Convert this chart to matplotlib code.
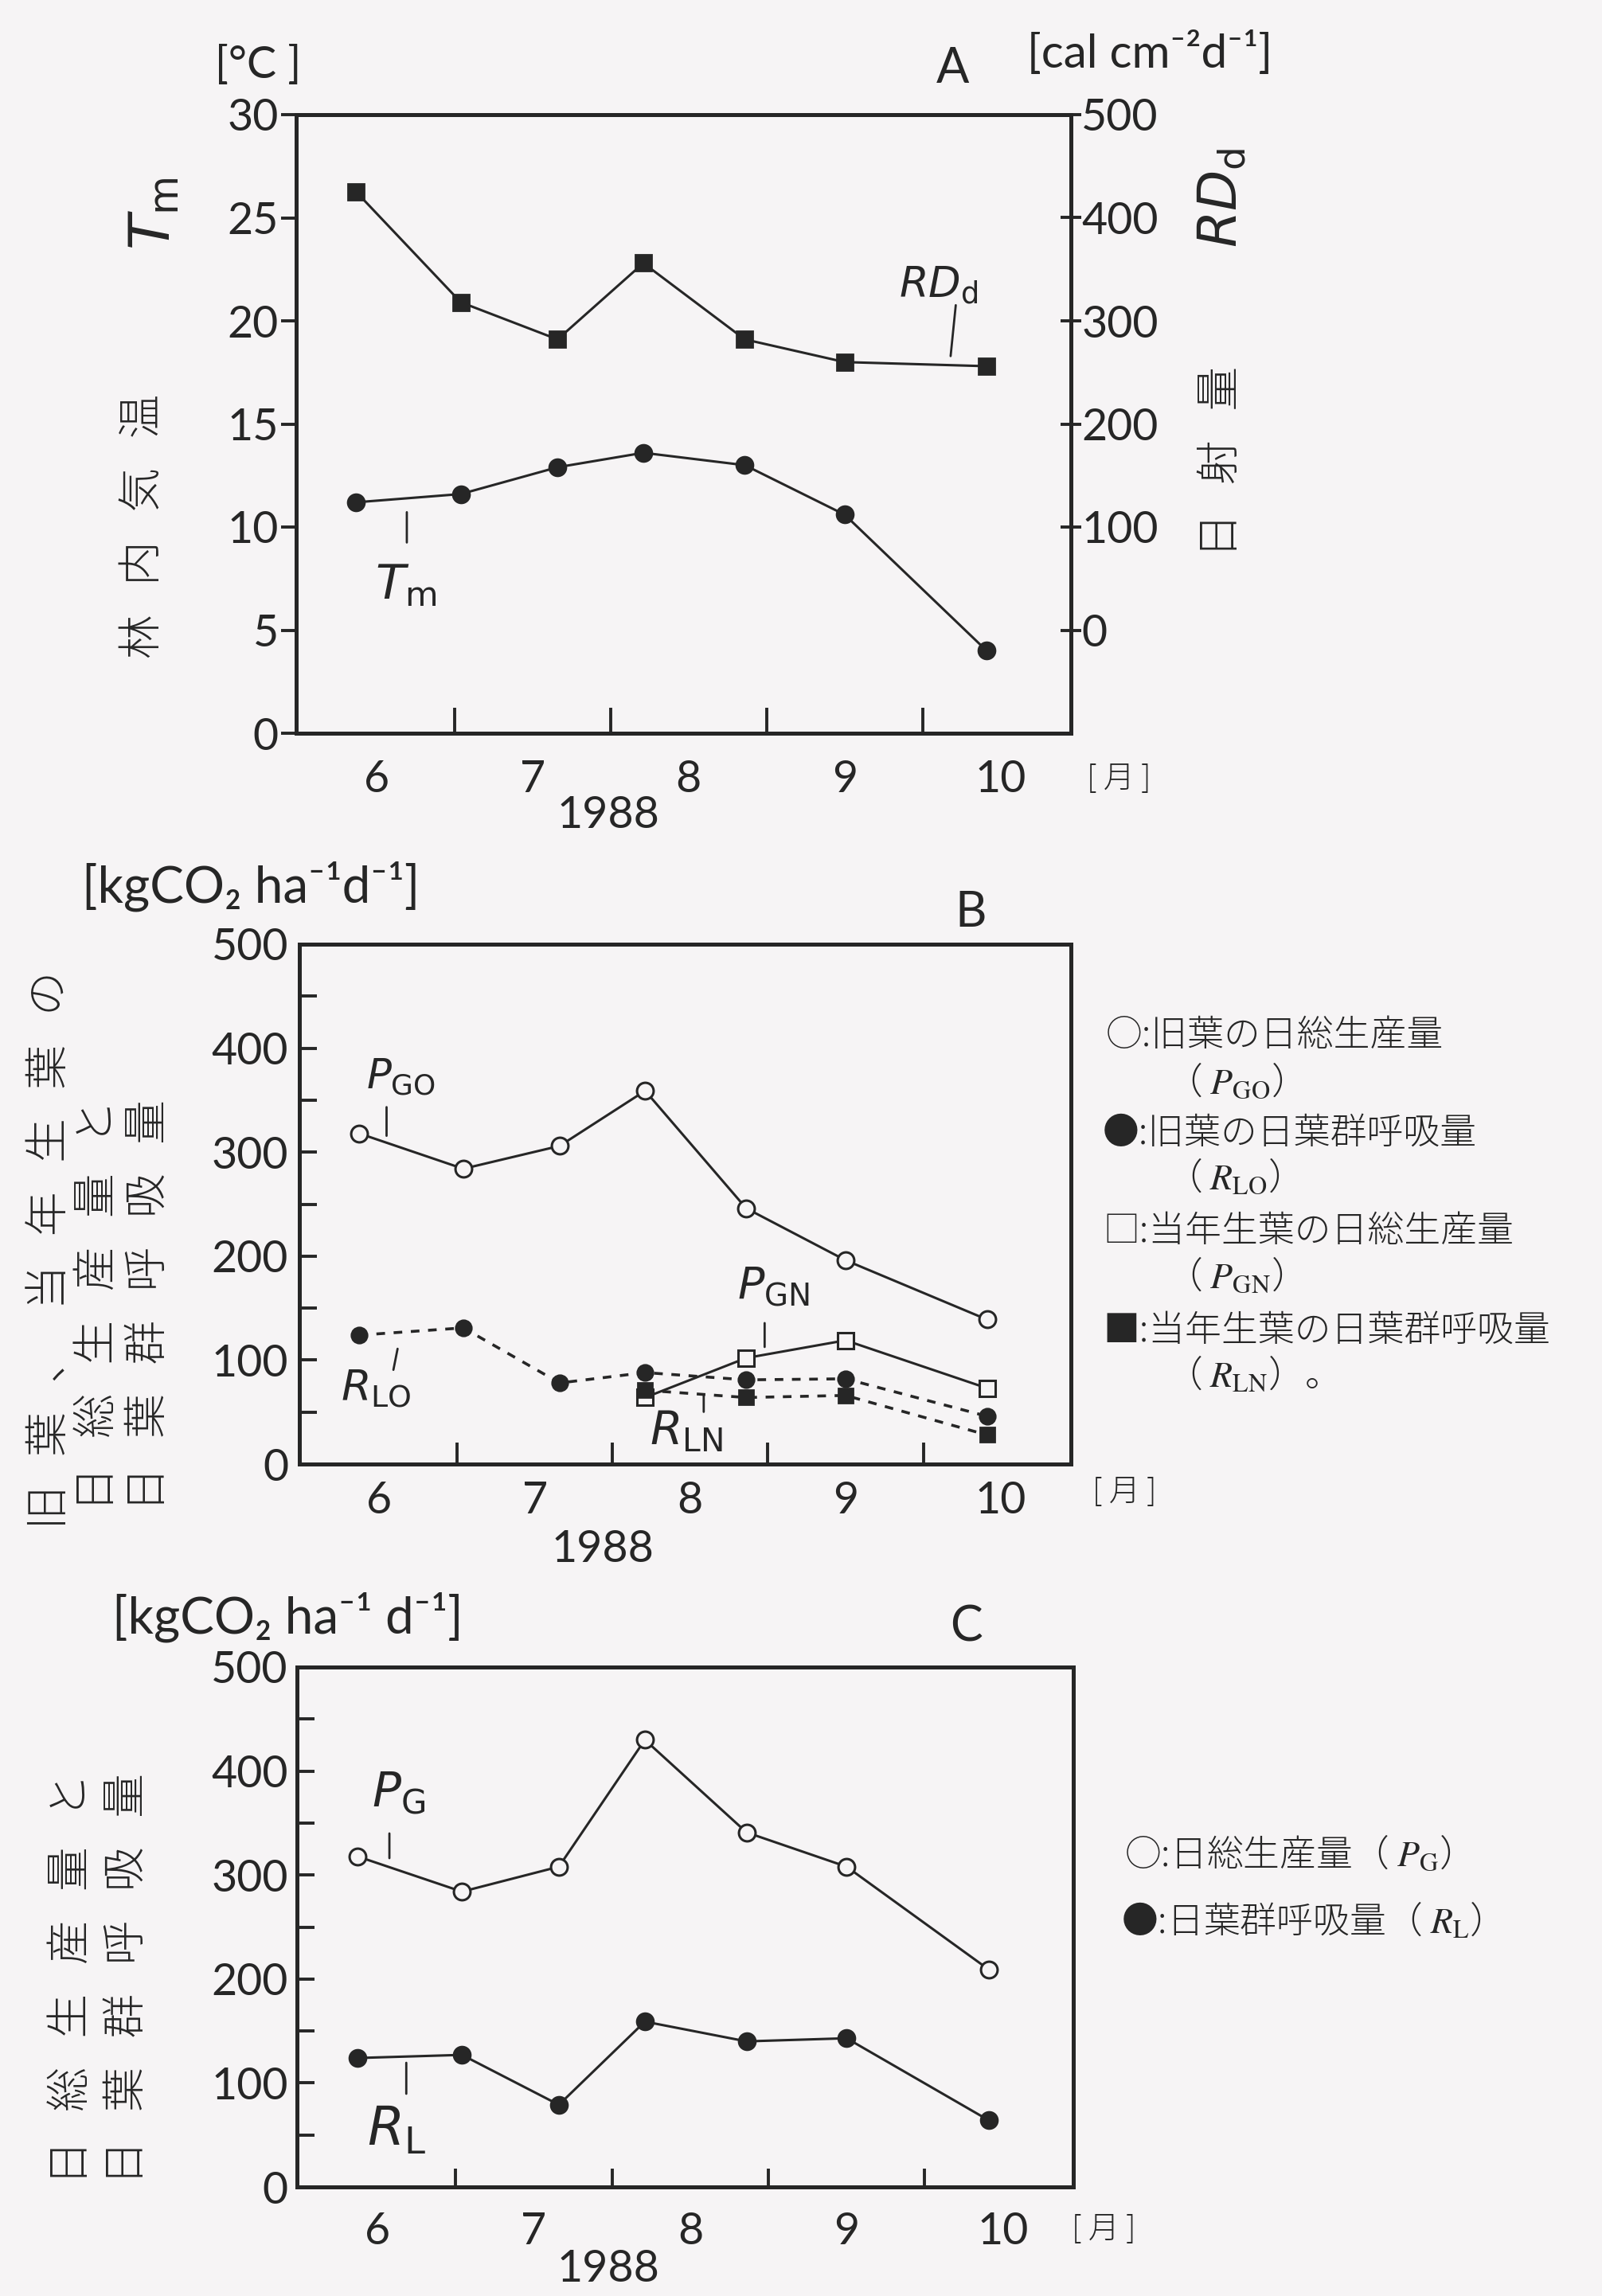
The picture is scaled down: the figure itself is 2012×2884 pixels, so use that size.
import numpy as np
import matplotlib
matplotlib.use("Agg")
import matplotlib.pyplot as plt
from matplotlib.ticker import FixedLocator

# ---------------- data ----------------
nan = np.nan
# sampling dates in month units (month label sits mid-month, boundaries at .5)
sample_x = [5.87, 6.54, 7.16, 7.71, 8.36, 9.00, 9.91]
Tm = [11.2, 11.6, 12.9, 13.6, 13.0, 10.6, 4.0]          # 林内気温 [°C]
RDd = [425, 318, 282, 356, 282, 260, 256]                # 日射量 [cal cm-2 d-1]
PGO = [318, 284, 306, 359, 246, 196, 139]                # 旧葉の日総生産量
RLO = [124, 131, 78, 88, 81, 82, 46]                     # 旧葉の日葉群呼吸量
PGN = [nan, nan, nan, 64, 102, 119, 73]                  # 当年生葉の日総生産量
RLN = [nan, nan, nan, 71, 64, 66, 28]                    # 当年生葉の日葉群呼吸量
PG = [318, 284, 308, 430, 341, 308, 209]                 # 日総生産量
RL = [124, 127, 79, 159, 140, 143, 64]                   # 日葉群呼吸量
month_pos = [6, 7, 8, 9, 10]
month_labels = ["6", "7", "8", "9", "10"]
month_bounds = [6.5, 7.5, 8.5, 9.5]
tempA_ticks = [0, 5, 10, 15, 20, 25, 30]
radA_ticks = [0, 100, 200, 300, 400, 500]
prod_ticks = [0, 100, 200, 300, 400, 500]
prod_minor = [50, 150, 250, 350, 450]

# ---------------- style ----------------
W, H = 2012, 2884
DPI = 200
BG = "#f6f4f5"
INK = "#262626"
NUMFONT = ["Lato", "DejaVu Sans"]
JPFONT = ["Noto Sans CJK JP", "DejaVu Sans"]
plt.rcParams["font.family"] = NUMFONT
plt.rcParams["text.color"] = INK
plt.rcParams["axes.edgecolor"] = INK
plt.rcParams["xtick.color"] = INK
plt.rcParams["ytick.color"] = INK
plt.rcParams["xtick.labelcolor"] = INK
plt.rcParams["ytick.labelcolor"] = INK

fig = plt.figure(figsize=(W / DPI, H / DPI), dpi=DPI, facecolor=BG)


def rect(l, t, r, b):
    return [l / W, 1 - b / H, (r - l) / W, (b - t) / H]


def ftext(x, y, s, **kw):
    kw.setdefault("color", INK)
    return fig.text(x / W, 1 - y / H, s, **kw)


def vlabel(x, ybottom, s, size=20):
    spaced = "   ".join(list(s))
    ftext(x, ybottom, spaced, rotation=90, ha="center", va="bottom",
          family=JPFONT, fontsize=size, fontweight="light")


def leader(ax, p0, p1):
    ax.annotate("", xy=p1, xytext=p0,
                arrowprops=dict(arrowstyle="-", lw=1.0, color=INK,
                                shrinkA=0, shrinkB=0))


def mlabel(ax, x, y, s, size):
    ax.text(x, y, s, fontsize=size, ha="center", va="center", color=INK,
            math_fontfamily="dejavusans")


def base_axes(ax, xlabpad, xticklen):
    ax.set_facecolor(BG)
    ax.set_xlim(5.485, 10.45)
    for sp in ax.spines.values():
        sp.set_linewidth(1.8)
    ax.set_xticks(month_pos)
    ax.set_xticklabels(month_labels, fontsize=20)
    ax.xaxis.set_minor_locator(FixedLocator(month_bounds))
    ax.tick_params(axis="x", which="major", length=0, pad=xlabpad)
    ax.tick_params(axis="x", which="minor", direction="in", length=xticklen,
                   width=1.4)


LW = 1.1
MS = 7.5
MEW = 1.1

# ---------------- panel A ----------------
axA = fig.add_axes(rect(372, 144, 1345, 921))
base_axes(axA, 12, 11.5)
axA.set_ylim(0, 30)
axA.set_yticks(tempA_ticks)
axA.set_yticklabels([str(v) for v in tempA_ticks], fontsize=20)
axA.tick_params(axis="y", direction="out", length=7, width=1.4, pad=1)
axA.plot(sample_x, Tm, "-o", color=INK, lw=LW, ms=MS, mfc=INK, mec=INK, zorder=3)

axA2 = axA.twinx()
axA2.set_ylim(-100, 500)
axA2.set_yticks(radA_ticks)
axA2.set_yticklabels([str(v) for v in radA_ticks], fontsize=20)
axA2.tick_params(axis="y", direction="inout", length=9.5, width=1.4, pad=0)
for sp in axA2.spines.values():
    sp.set_linewidth(1.8)
axA2.plot(sample_x, RDd, "-s", color=INK, lw=LW, ms=7, mfc=INK, mec=INK, zorder=3)

mlabel(axA, 6.19, 7.17, r"$T_{\mathrm{m}}$", 22)
leader(axA, (6.194, 10.72), (6.194, 9.25))
mlabel(axA, 9.60, 21.70, r"$RD_{\mathrm{d}}$", 19)
leader(axA, (9.712, 20.76), (9.679, 18.29))

ftext(324, 82, "[°C ]", fontsize=20, ha="center", va="center")
ftext(1197, 86, "A", fontsize=22, ha="center", va="center")
ftext(1290, 67, "[cal cm⁻²d⁻¹]", fontsize=21, ha="left", va="center")
ftext(193, 268, r"$T_{\mathrm{m}}$", fontsize=26, rotation=90, ha="center",
      va="center", math_fontfamily="dejavusans")
vlabel(180, 827, "林内気温")
ftext(1534, 248, r"$RD_{\mathrm{d}}$", fontsize=24, rotation=90, ha="center",
      va="center", math_fontfamily="dejavusans")
vlabel(1534, 700, "日射量")
ftext(1405, 978, "[ 月 ]", fontsize=14, ha="center", va="center", family=JPFONT,
      fontweight="light")
ftext(764, 1025, "1988", fontsize=20, ha="center", va="center")

# ---------------- panel B ----------------
axB = fig.add_axes(rect(376, 1186, 1345, 1839))
base_axes(axB, 7.5, 9.7)
axB.set_ylim(0, 500)
axB.set_yticks(prod_ticks)
axB.set_yticklabels([str(v) for v in prod_ticks], fontsize=20)
axB.yaxis.set_minor_locator(FixedLocator(prod_minor))
axB.tick_params(axis="y", which="both", direction="in", length=8, width=1.4, pad=5)

axB.plot(sample_x, PGO, "-o", color=INK, lw=LW, ms=MS, mfc=BG, mec=INK, mew=MEW, zorder=3)
axB.plot(sample_x, PGN, "-s", color=INK, lw=LW, ms=7.5, mfc=BG, mec=INK, mew=MEW, zorder=3)
axB.plot(sample_x, RLN, "--s", color=INK, lw=LW + 0.2, dashes=(3, 3), ms=6.5,
         mfc=INK, mec=INK, zorder=4)
axB.plot(sample_x, RLO, "--o", color=INK, lw=LW + 0.2, dashes=(3, 3), ms=7,
         mfc=INK, mec=INK, zorder=5)

mlabel(axB, 6.138, 372.3, r"$P_{\mathrm{GO}}$", 18.5)
leader(axB, (6.046, 343.3), (6.046, 315.7))
mlabel(axB, 5.98, 71.9, r"$R_{\mathrm{LO}}$", 19.5)
leader(axB, (6.117, 110.9), (6.09, 90.6))
mlabel(axB, 8.536, 170.5, r"$P_{\mathrm{GN}}$", 20)
leader(axB, (8.479, 135.6), (8.479, 112.6))
mlabel(axB, 7.974, 31.3, r"$R_{\mathrm{LN}}$", 21)
leader(axB, (8.087, 66.7), (8.087, 50.2))

ftext(103, 1113, "[kgCO₂ ha⁻¹d⁻¹]", fontsize=23, ha="left", va="center")
ftext(1219, 1146, "B", fontsize=22, ha="center", va="center")
vlabel(63, 1921, "旧葉、当年生葉の")
vlabel(123, 1898, "日総生産量と")
vlabel(187, 1898, "日葉群呼吸量")
ftext(1412, 1874, "[ 月 ]", fontsize=14, ha="center", va="center", family=JPFONT,
      fontweight="light")
ftext(757, 1947, "1988", fontsize=20, ha="center", va="center")

legB = [
    (1389, 1301, "○:旧葉の日総生産量"),
    (1464, 1360, "（ $P_{\\mathrm{GO}}$）"),
    (1385, 1424, "●:旧葉の日葉群呼吸量"),
    (1464, 1480, "（ $R_{\\mathrm{LO}}$）"),
    (1385, 1547, "□:当年生葉の日総生産量"),
    (1464, 1604, "（ $P_{\\mathrm{GN}}$）"),
    (1385, 1672, "■:当年生葉の日葉群呼吸量"),
    (1464, 1728, "（ $R_{\\mathrm{LN}}$）。"),
]
for x, y, s in legB:
    ftext(x, y, s, fontsize=16.5, ha="left", va="center", family=JPFONT,
          fontweight="light", math_fontfamily="stix")

# ---------------- panel C ----------------
axC = fig.add_axes(rect(373, 2094, 1348, 2747))
base_axes(axC, 11, 8.3)
axC.set_ylim(0, 500)
axC.set_yticks(prod_ticks)
axC.set_yticklabels([str(v) for v in prod_ticks], fontsize=20)
axC.yaxis.set_minor_locator(FixedLocator(prod_minor))
axC.tick_params(axis="y", which="both", direction="in", length=8, width=1.4, pad=4)

axC.plot(sample_x, PG, "-o", color=INK, lw=LW, ms=MS, mfc=BG, mec=INK, mew=MEW, zorder=3)
axC.plot(sample_x, RL, "-o", color=INK, lw=LW, ms=MS, mfc=INK, mec=INK, zorder=3)

mlabel(axC, 6.133, 378.3, r"$P_{\mathrm{G}}$", 21.5)
leader(axC, (6.076, 340.0), (6.076, 316.2))
mlabel(axC, 6.122, 55.1, r"$R_{\mathrm{L}}$", 24)
leader(axC, (6.184, 119.4), (6.184, 89.6))

ftext(141, 2031, "[kgCO₂ ha⁻¹ d⁻¹]", fontsize=23, ha="left", va="center")
ftext(1213, 2044, "C", fontsize=22, ha="center", va="center")
vlabel(90, 2744, "日総生産量と")
vlabel(160, 2744, "日葉群呼吸量")
ftext(1386, 2800, "[ 月 ]", fontsize=14, ha="center", va="center", family=JPFONT,
      fontweight="light")
ftext(764, 2851, "1988", fontsize=20, ha="center", va="center")

legC = [
    (1412, 2330, "○:日総生産量（ $P_{\\mathrm{G}}$）"),
    (1408, 2414, "●:日葉群呼吸量（ $R_{\\mathrm{L}}$）"),
]
for x, y, s in legC:
    ftext(x, y, s, fontsize=16.5, ha="left", va="center", family=JPFONT,
          fontweight="light", math_fontfamily="stix")

fig.savefig("out.png", dpi=DPI, facecolor=BG)
